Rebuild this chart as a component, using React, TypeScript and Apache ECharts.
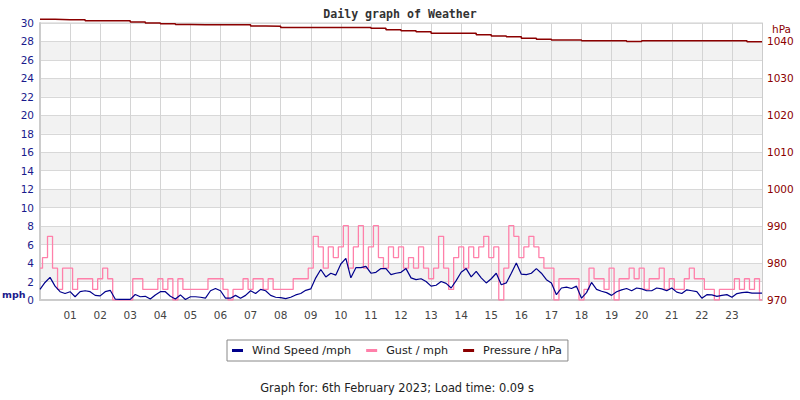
import { useEffect, useRef } from 'react';
import * as echarts from 'echarts';

// one reading every 10 minutes, 00:00 .. 24:00
const SLOT_MINUTES = 10;
const windSpeed = [
  1.15, 1.9, 2.45, 1.5, 0.9, 0.7, 0.9, 0.35, 0.9, 1.0, 0.9, 0.5,
  0.45, 0.9, 1.05, 0.1, 0.07, 0.07, 0.07, 0.6, 0.35, 0.4, 0.1, 0.55,
  0.9, 0.9, 0.4, 0.1, 0.55, 0.05, 0.35, 0.35, 0.3, 0.2, 1.0, 1.25,
  1.0, 0.2, 0.2, 0.5, 0.2, 0.5, 1.0, 0.7, 1.15, 1.0, 0.5, 0.3,
  0.25, 0.15, 0.3, 0.55, 0.7, 1.05, 1.2, 2.4, 3.3, 2.5, 2.9, 2.7,
  3.9, 4.5, 2.4, 3.5, 3.5, 3.65, 2.9, 3.0, 3.4, 3.4, 2.75, 2.9,
  3.0, 3.4, 2.4, 2.2, 2.3, 2.0, 1.5, 1.6, 2.0, 1.8, 1.3, 2.1,
  3.0, 3.4, 2.5, 3.1, 2.4, 1.85, 2.3, 2.9, 1.65, 1.85, 2.9, 4.0,
  2.8, 2.75, 2.9, 3.4, 2.9, 2.2, 1.85, 0.58, 1.3, 1.4, 1.25, 1.5,
  0.2, 0.8, 1.9, 1.15, 0.95, 0.8, 0.5, 0.9, 1.1, 1.25, 1.0, 1.3,
  1.2, 1.0, 1.0, 1.3, 1.2, 1.0, 1.3, 0.85, 0.7, 1.1, 1.0, 0.9,
  0.2, 0.58, 0.55, 0.4, 0.5, 0.58, 0.3, 0.7, 0.8, 0.85, 0.75, 0.75,
  0.75,
];
const gust = [
  3.45, 4.6, 6.9, 3.45, 1.15, 3.45, 3.45, 1.15, 2.3, 2.3, 2.3, 1.15,
  2.3, 3.45, 2.3, 0, 0, 0, 0, 2.3, 2.3, 1.15, 1.15, 1.15,
  2.3, 1.15, 2.3, 0, 2.3, 1.15, 1.15, 1.15, 1.15, 1.15, 2.3, 2.3,
  2.3, 1.15, 0, 1.15, 1.15, 2.3, 1.15, 2.3, 2.3, 1.15, 2.3, 1.15,
  1.15, 1.15, 1.15, 2.3, 2.3, 2.3, 3.45, 6.9, 5.75, 3.45, 5.75, 4.6,
  5.75, 8.05, 3.45, 5.75, 8.05, 3.45, 5.75, 8.05, 4.6, 3.45, 5.75, 4.6,
  5.75, 3.45, 4.6, 3.45, 5.75, 3.45, 2.3, 3.45, 6.9, 3.45, 1.15, 4.6,
  5.75, 3.45, 5.75, 4.6, 5.75, 6.9, 4.6, 5.75, 0, 3.45, 8.05, 6.9,
  4.6, 5.75, 6.9, 5.75, 4.6, 3.45, 3.45, 0, 2.3, 2.3, 2.3, 2.3,
  0, 1.15, 3.45, 2.3, 2.3, 1.15, 3.45, 0, 2.3, 2.3, 3.45, 2.3,
  3.45, 1.15, 2.3, 2.3, 3.45, 1.15, 2.3, 1.15, 1.15, 2.3, 3.45, 2.3,
  2.3, 1.15, 1.15, 0, 1.15, 1.15, 1.15, 2.3, 1.15, 2.3, 1.15, 2.3,
  0,
];
// one reading every 30 minutes
const PRESSURE_STEP_MINUTES = 30;
const pressure = [
  1046.0, 1045.9, 1045.9, 1045.6, 1045.6, 1045.6, 1045.3, 1045.0, 1044.8, 1044.6,
  1044.5, 1044.5, 1044.5, 1044.5, 1044.2, 1044.1, 1043.8, 1043.8, 1043.8, 1043.8,
  1043.8, 1043.8, 1043.6, 1043.2, 1042.9, 1042.6, 1042.2, 1042.2, 1042.2, 1041.8,
  1041.5, 1041.3, 1040.9, 1040.6, 1040.4, 1040.4, 1040.2, 1040.2, 1040.2, 1040.0,
  1040.2, 1040.2, 1040.2, 1040.2, 1040.2, 1040.2, 1040.2, 1039.9, 1039.9,
];
const hourLabels = [
  '', '01', '02', '03', '04', '05', '06', '07', '08', '09', '10', '11', '12',
  '13', '14', '15', '16', '17', '18', '19', '20', '21', '22', '23', '',
];

const TITLE = 'Daily graph of Weather';
const FOOTER = 'Graph for: 6th February 2023; Load time: 0.09 s';
const NAMES = ['Wind Speed /mph', 'Gust / mph', 'Pressure / hPa'];
const BLUE = '#00008b';
const PINK = '#ff80aa';
const RED = '#8b0000';
const AXIS_BLUE = '#1a1a8c';

export default function App() {
  const ref = useRef<HTMLDivElement>(null);
  useEffect(() => {
    if (!ref.current) return;
    const chart = echarts.init(ref.current, null, { renderer: 'svg' });
    const t = (i: number) => (i * SLOT_MINUTES) / 60;
    const tp = (i: number) => (i * PRESSURE_STEP_MINUTES) / 60;
    const font = 'DejaVu Sans';
    chart.setOption({
      animation: false,
      backgroundColor: '#ffffff',
      textStyle: { fontFamily: font },
      title: {
        text: TITLE,
        left: 'center',
        top: 3,
        textStyle: { fontFamily: 'DejaVu Sans Mono', fontWeight: 'bold', fontSize: 11.6, color: '#333' },
      },
      grid: { left: 40, right: 38, top: 23, bottom: 100, show: true, borderColor: '#cfcfcf', borderWidth: 1 },
      legend: {
        data: NAMES,
        left: 227,
        top: 340,
        padding: [5, 6, 5, 5],
        borderColor: '#888',
        borderWidth: 1,
        itemWidth: 11,
        itemHeight: 3,
        itemGap: 15,
        icon: 'rect',
        selectedMode: false,
        textStyle: { fontSize: 11.2, color: '#222', fontFamily: font, padding: [0, 0, 0, 4] },
      },
      xAxis: {
        type: 'value',
        min: 0,
        max: 24,
        interval: 1,
        axisLine: { show: true, lineStyle: { color: '#cccccc', width: 2 } },
        axisTick: { show: false },
        axisLabel: {
          formatter: (v: number) => hourLabels[Math.round(v)] ?? '',
          color: '#444',
          fontSize: 10.5,
          margin: 9,
          fontFamily: font,
        },
        splitLine: { show: true, lineStyle: { color: '#d4d4d4' } },
      },
      yAxis: [
        {
          type: 'value',
          min: 0,
          max: 30,
          interval: 2,
          position: 'left',
          axisLine: { show: true, lineStyle: { color: '#cccccc', width: 2 } },
          axisTick: { show: false },
          axisLabel: { color: AXIS_BLUE, fontSize: 10.5, margin: 6, fontFamily: font },
          splitLine: { show: true, lineStyle: { color: '#d8d8d8' } },
          splitArea: { show: true, areaStyle: { color: ['#ffffff', '#f2f2f2'] } },
        },
        {
          type: 'value',
          min: 970,
          max: 1045,
          interval: 10,
          position: 'right',
          axisLine: { show: true, lineStyle: { color: '#cccccc' } },
          axisTick: { show: false },
          axisLabel: {
            color: RED,
            fontSize: 10.5,
            margin: 5,
            showMaxLabel: false,
            fontFamily: font,
            formatter: (v: number) => String(Math.round(v)),
          },
          splitLine: { show: false },
        },
      ],
      series: [
        {
          name: NAMES[1],
          type: 'line',
          step: 'middle',
          symbol: 'none',
          yAxisIndex: 0,
          data: gust.map((v, i) => [t(i), v]),
          lineStyle: { color: PINK, width: 1.3 },
          itemStyle: { color: PINK },
        },
        {
          name: NAMES[0],
          type: 'line',
          symbol: 'none',
          yAxisIndex: 0,
          data: windSpeed.map((v, i) => [t(i), v]),
          lineStyle: { color: BLUE, width: 1.2 },
          itemStyle: { color: BLUE },
        },
        {
          name: NAMES[2],
          type: 'line',
          step: 'end',
          symbol: 'none',
          yAxisIndex: 1,
          clip: false,
          data: pressure.map((v, i) => [tp(i), v]),
          lineStyle: { color: RED, width: 1.5 },
          itemStyle: { color: RED },
        },
      ],
      graphic: [
        {
          type: 'text',
          x: 2,
          y: 294,
          style: { text: 'mph', font: `bold 9.5px "${font}"`, fill: AXIS_BLUE, textVerticalAlign: 'middle' },
        },
        {
          type: 'text',
          x: 772,
          y: 29,
          style: { text: 'hPa', font: `10.5px "${font}"`, fill: RED, textVerticalAlign: 'middle' },
        },
        {
          type: 'text',
          x: 397,
          y: 388,
          style: { text: FOOTER, font: `11.4px "${font}"`, fill: '#222', textAlign: 'center', textVerticalAlign: 'middle' },
        },
      ],
    });
    return () => chart.dispose();
  }, []);
  return <div ref={ref} style={{ position: 'fixed', left: 0, top: 0, width: 800, height: 400 }} />;
}
